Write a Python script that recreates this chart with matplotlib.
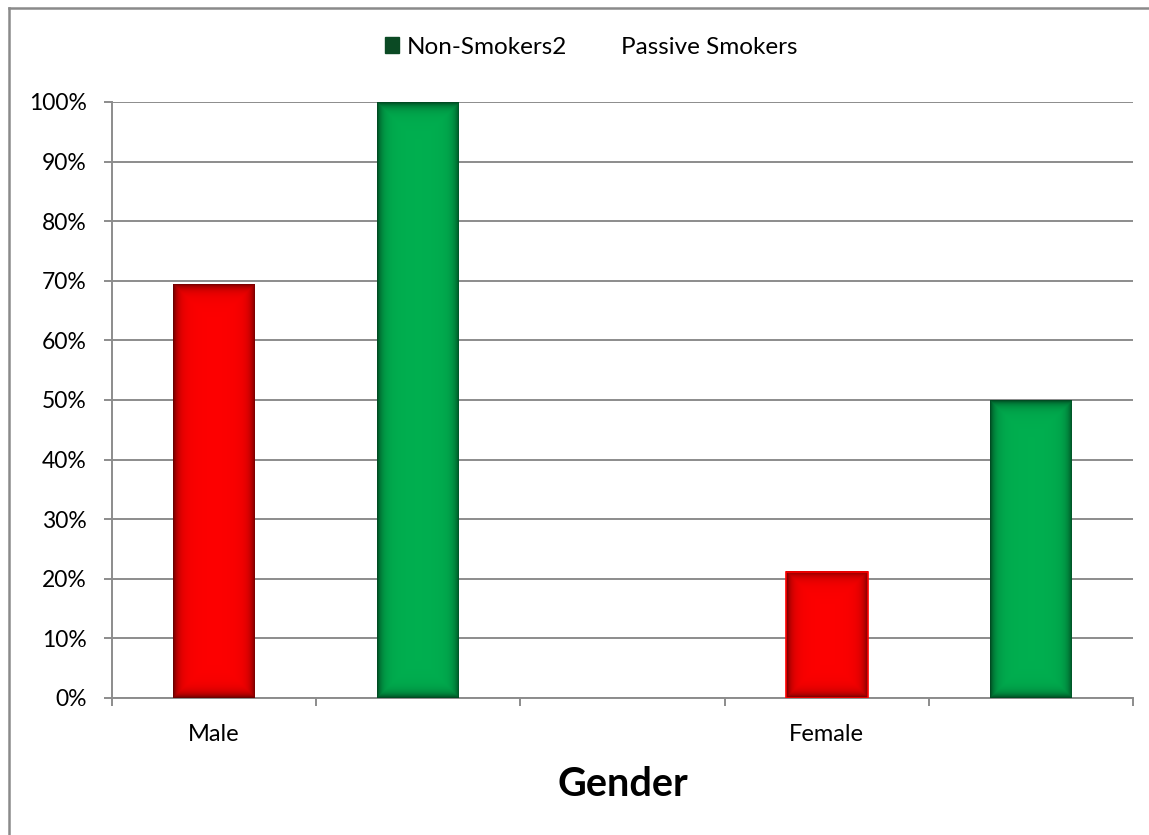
import numpy as np
import matplotlib
matplotlib.use("Agg")
import matplotlib.pyplot as plt
from matplotlib.patches import Patch, Rectangle
from matplotlib.lines import Line2D
from matplotlib.colors import to_rgb

plt.rcParams['font.family'] = ['Lato', 'DejaVu Sans']

# Category slots along the x axis (only two carry labels)
categories = ["Male", "", "", "Female", ""]
passive_smokers = [69.4, np.nan, np.nan, 21.2, np.nan]
non_smokers2 = [np.nan, 100, np.nan, np.nan, 50]
y_ticks = [0, 10, 20, 30, 40, 50, 60, 70, 80, 90, 100]
y_tick_labels = [f"{v}%" for v in y_ticks]

RED = "#FF0000"
GREEN = "#00B050"
LEGEND_GREEN = "#0B4A24"
GRID = "#8C8C8C"
bar_width = 0.4

W, H = 1149, 835
fig = plt.figure(figsize=(W / 100, H / 100), dpi=100)
ax = fig.add_axes([112 / W, 1 - 698 / H, (1133 - 112) / W, (698 - 102) / H])

n = len(categories)
x = np.arange(n)
ax.set_xlim(-0.5, n - 0.5)
ax.set_ylim(0, 100)

fig.canvas.draw()


def shaded_bar(xc, h, color, outline=None):
    """Bar with darkened inner edges (soft inner shadow)."""
    if h is None or np.isnan(h):
        return
    x0, x1 = xc - bar_width / 2, xc + bar_width / 2
    p0 = ax.transData.transform((x0, 0))
    p1 = ax.transData.transform((x1, h))
    wpx, hpx = abs(p1[0] - p0[0]), abs(p1[1] - p0[1])
    nx, ny = max(int(wpx), 2), max(int(hpx), 2)
    xs = (np.arange(nx) + 0.5)
    ys = (np.arange(ny) + 0.5)
    dx = np.minimum(xs, wpx - xs)[None, :]
    dy = np.minimum(ys, hpx - ys)[:, None]
    d = np.minimum(np.broadcast_to(dx, (ny, nx)), np.broadcast_to(dy, (ny, nx)))
    shade = 1 - 0.55 * np.exp(-d / 4.5) - 0.08 * np.exp(-d / 14.0)
    base = np.array(to_rgb(color))
    img = np.clip(base[None, None, :] * shade[:, :, None], 0, 1)
    ax.imshow(img, extent=(x0, x1, 0, h), aspect='auto', origin='lower',
              interpolation='bilinear', zorder=3)
    if outline:
        ax.add_patch(Rectangle((x0, 0), bar_width, h, fill=False,
                               edgecolor=outline, linewidth=1.2, zorder=4))


for xi, v in zip(x, passive_smokers):
    shaded_bar(xi, v, RED, outline=RED if (not np.isnan(v) and v < 30) else None)
for xi, v in zip(x, non_smokers2):
    shaded_bar(xi, v, GREEN)

ax.set_xlim(-0.5, n - 0.5)
ax.set_ylim(0, 100)

# Gridlines and axes
ax.set_yticks(y_ticks)
ax.set_yticklabels(y_tick_labels)
ax.yaxis.grid(True, color=GRID, linewidth=1.4, zorder=0)
ax.set_axisbelow(True)
for s in ["top", "right"]:
    ax.spines[s].set_visible(False)
for s in ["left", "bottom"]:
    ax.spines[s].set_color(GRID)
    ax.spines[s].set_linewidth(1.4)

ax.tick_params(axis='y', which='major', length=5.8, width=1.4, color=GRID,
               labelsize=16.5, labelcolor='black', pad=12.5)

# Tick marks at slot boundaries, labels at slot centres
ax.set_xticks(np.arange(n + 1) - 0.5)
ax.set_xticklabels([""] * (n + 1))
ax.tick_params(axis='x', which='major', length=5.8, width=1.4, color=GRID)
ax.set_xticks(x, minor=True)
ax.set_xticklabels(categories, minor=True)
ax.tick_params(axis='x', which='minor', length=0, labelsize=17, pad=19)

ax.set_xlabel("Gender", fontsize=28.5, fontweight='bold', labelpad=15)

# Legend
handles = [Patch(facecolor=LEGEND_GREEN, edgecolor=LEGEND_GREEN),
           Patch(facecolor='none', edgecolor='none')]
fig.legend(handles, ["Non-Smokers2", "Passive Smokers"], loc='center',
           bbox_to_anchor=(591 / W, 1 - 47 / H), ncol=2, frameon=False,
           fontsize=17.5, handlelength=0.6, handleheight=0.6, handletextpad=0.3,
           columnspacing=1.3)

# Chart area frame (left and top edges)
frame_kw = dict(transform=fig.transFigure, color='#8A8A8A', linewidth=1.8)
fig.add_artist(Line2D([9 / W, 9 / W], [0, 1 - 8 / H], **frame_kw))
fig.add_artist(Line2D([9 / W, 1], [1 - 8 / H, 1 - 8 / H], **frame_kw))

fig.savefig("out.png", dpi=100)
